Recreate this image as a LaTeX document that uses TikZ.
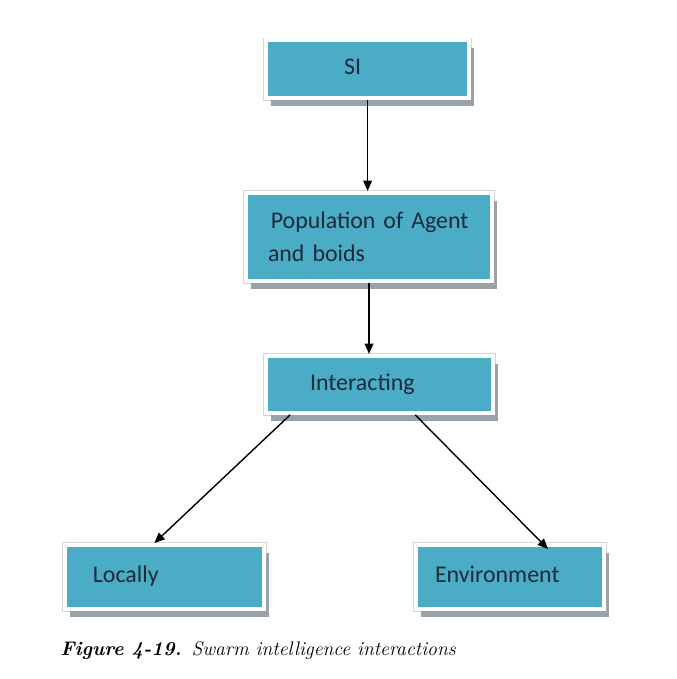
\documentclass[tikz,border=0pt]{standalone}
\usepackage{fontspec}
\newfontfamily\boxfont{Carlito}
\usepackage{tikz}
\usetikzlibrary{positioning,shapes,arrows,arrows.meta,shadows}

\definecolor{siblue}{HTML}{4BACC6}
\definecolor{sitext}{HTML}{1B2A38}
\definecolor{sishadow}{HTML}{97A3A8}
\definecolor{siedge}{HTML}{D6D6D6}

\tikzset{
	blk/.style={rectangle, fill=siblue, draw=white, line width=2.8pt,
		preaction={draw=siedge, line width=3.8pt},
		drop shadow={shadow xshift=0.12cm, shadow yshift=-0.2cm, fill=sishadow, opacity=1},
		align=left, text=sitext, inner ysep=0pt, text depth=0.12cm,
		font=\boxfont\fontsize{17}{23.5}\selectfont},
	arr/.style={-{Triangle[length=0.26cm,width=0.22cm]}, line width=1pt, black}
}

\begin{document}
\begin{tikzpicture}
		\useasboundingbox (0,0) rectangle (16.925,-16.975);
		
		% Boxes
		\node[blk, minimum width=5.075cm, minimum height=1.45cm, inner xsep=1.95cm, text width=1.175cm] (si) at (9.19,-1.73) {SI};
		\node[blk, text depth=, minimum width=6.15cm, minimum height=2.2cm, inner xsep=0.55cm, text width=5.05cm] (pop) at (9.225,-5.925) {\hspace{2pt}Population of Agent\\and boids};
		\node[blk, minimum width=5.675cm, minimum height=1.425cm, inner xsep=1.1cm, text width=3.475cm] (inter) at (9.49,-9.61) {Interacting};
		\node[blk, minimum width=4.975cm, minimum height=1.6cm, inner xsep=0.7cm, text width=3.575cm] (local) at (4.11,-14.425) {Locally};
		\node[blk, minimum width=4.7cm, minimum height=1.6cm, inner xsep=0.475cm, text width=3.75cm] (env) at (12.75,-14.425) {Environment};
		
		% Arrows
		\draw[arr] (si.south) -- (si.south |- pop.north);
		\draw[arr] (pop.south) -- (pop.south |- inter.north);
		\draw[arr] ([xshift=0.65cm]inter.south west) -- ([xshift=-0.25cm]local.north);
		\draw[arr] ([xshift=0.89cm]inter.south) -- ([xshift=0.95cm, yshift=-0.15cm]env.north);
		
		% Caption
		\node[anchor=west, inner sep=0pt, font=\fontsize{14}{16}\selectfont] (cap) at (1.5,-16.275) {\textbf{\textit{Figure 4-19.}}\enspace\textit{Swarm intelligence interactions}};
	\end{tikzpicture}
\end{document}
